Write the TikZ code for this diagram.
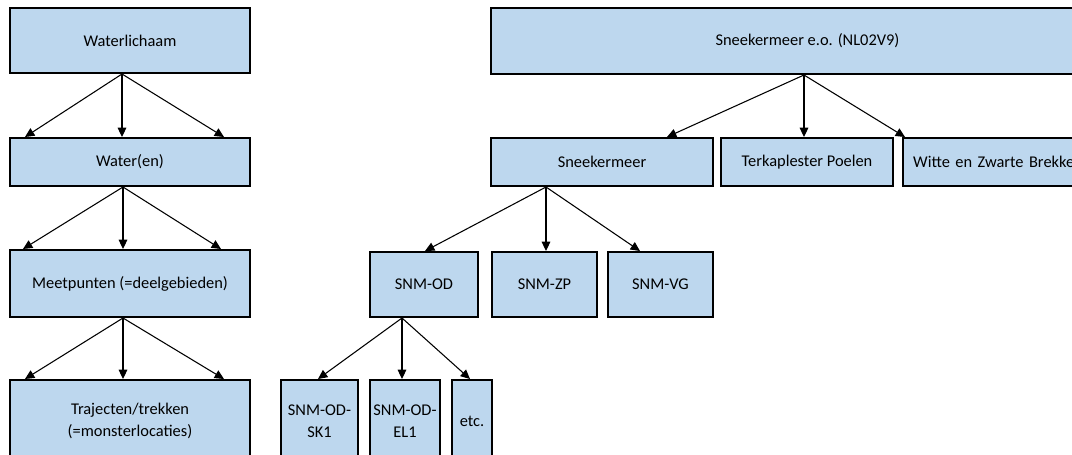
\documentclass[tikz,border=0pt]{standalone}
\usepackage{fontspec}
\setmainfont{Carlito}
\usetikzlibrary{arrows.meta,calc}
\definecolor{boxblue}{HTML}{BDD7EE}
\tikzset{
  box/.style={draw=black, line width=1.5pt, fill=boxblue, inner sep=0pt, align=center,
    font=\fontsize{12.3pt}{16.2pt}\selectfont},
  arr/.style={-{Triangle[length=7pt,width=6.5pt]}, line width=0.8pt},
  txt/.style={inner sep=0pt, font=\fontsize{12.3pt}{16.2pt}\selectfont}
}
\begin{document}
\begin{tikzpicture}[x=0.75pt,y=-0.75pt]
\useasboundingbox (0,0) rectangle (1072,454);
\clip (0,0) rectangle (1072,454);
% left column
\node[box, minimum width=240*0.75pt, minimum height=65*0.75pt] (wl) at (130,40.5) {Waterlichaam};
\node[box, minimum width=240*0.75pt, minimum height=48*0.75pt] (wa) at (130,162) {Water(en)};
\node[box, minimum width=240*0.75pt, minimum height=67*0.75pt] (mp) at (130,283.5) {Meetpunten (=deelgebieden)};
\node[box, minimum width=240*0.75pt, minimum height=82*0.75pt] (tr) at (130,421) {Trajecten/trekken\\(=monsterlocaties)};
% right tree
\node[box, minimum width=599*0.75pt, minimum height=66*0.75pt] (sem) at (790.5,41) {};
\node[txt] (semt) at (807.5,41) {Sneekermeer e.o. (NL02V9)};
\node[box, minimum width=222*0.75pt, minimum height=48*0.75pt] (snm) at (602,162) {Sneekermeer};
\node[box, minimum width=172*0.75pt, minimum height=48*0.75pt] (tp) at (807,162) {Terkaplester Poelen};
\node[box, minimum width=200*0.75pt, minimum height=48*0.75pt, anchor=west, text width=193*0.75pt, align=left] (wz) at (902,162) {\hspace*{5pt}Witte~en~Zwarte~Brekken};
\node[box, minimum width=108*0.75pt, minimum height=65*0.75pt] (od) at (424,284.5) {SNM-OD};
\node[box, minimum width=105*0.75pt, minimum height=65*0.75pt] (zp) at (544.5,284.5) {SNM-ZP};
\node[box, minimum width=105*0.75pt, minimum height=65*0.75pt] (vg) at (660.5,284.5) {SNM-VG};
\node[box, minimum width=77*0.75pt, minimum height=82*0.75pt] (sk1) at (319.5,421) {SNM-OD-\\SK1};
\node[box, minimum width=70*0.75pt, minimum height=82*0.75pt] (el1) at (405,421) {SNM-OD-\\EL1};
\node[box, minimum width=40*0.75pt, minimum height=82*0.75pt] (etc) at (472,421) {etc.};
% arrows left
\draw[arr] ($(wl.south)+(-8,0)$) -- ($(wa.north)+(-105,0)$);
\draw[arr] ($(wl.south)+(-8,0)$) -- ($(wa.north)+(-8,0)$);
\draw[arr] ($(wl.south)+(-8,0)$) -- ($(wa.north)+(94,0)$);
\draw[arr] ($(wa.south)+(-7,0)$) -- ($(mp.north)+(-107,0)$);
\draw[arr] ($(wa.south)+(-7,0)$) -- ($(mp.north)+(-7,0)$);
\draw[arr] ($(wa.south)+(-7,0)$) -- ($(mp.north)+(91,0)$);
\draw[arr] ($(mp.south)+(-7,0)$) -- ($(tr.north)+(-105,0)$);
\draw[arr] ($(mp.south)+(-7,0)$) -- ($(tr.north)+(-7,0)$);
\draw[arr] ($(mp.south)+(-7,0)$) -- ($(tr.north)+(94,0)$);
% arrows right
\draw[arr] ($(sem.south)+(13.5,0)$) -- ($(snm.north)+(65,0)$);
\draw[arr] ($(sem.south)+(13.5,0)$) -- ($(tp.north)+(-3,0)$);
\draw[arr] ($(sem.south)+(13.5,0)$) -- ($(wz.north west)+(3,0)$);
\draw[arr] ($(snm.south)+(-56,0)$) -- ($(od.north)+(1,0)$);
\draw[arr] ($(snm.south)+(-56,0)$) -- ($(zp.north)+(1.5,0)$);
\draw[arr] ($(snm.south)+(-56,0)$) -- ($(vg.north)+(-20.5,0)$);
\draw[arr] ($(od.south)+(-22,0)$) -- ($(sk1.north)+(-1.5,0)$);
\draw[arr] ($(od.south)+(-22,0)$) -- ($(el1.north)+(-3,0)$);
\draw[arr] ($(od.south)+(-22,0)$) -- ($(etc.north)+(-2,0)$);
\end{tikzpicture}
\end{document}
